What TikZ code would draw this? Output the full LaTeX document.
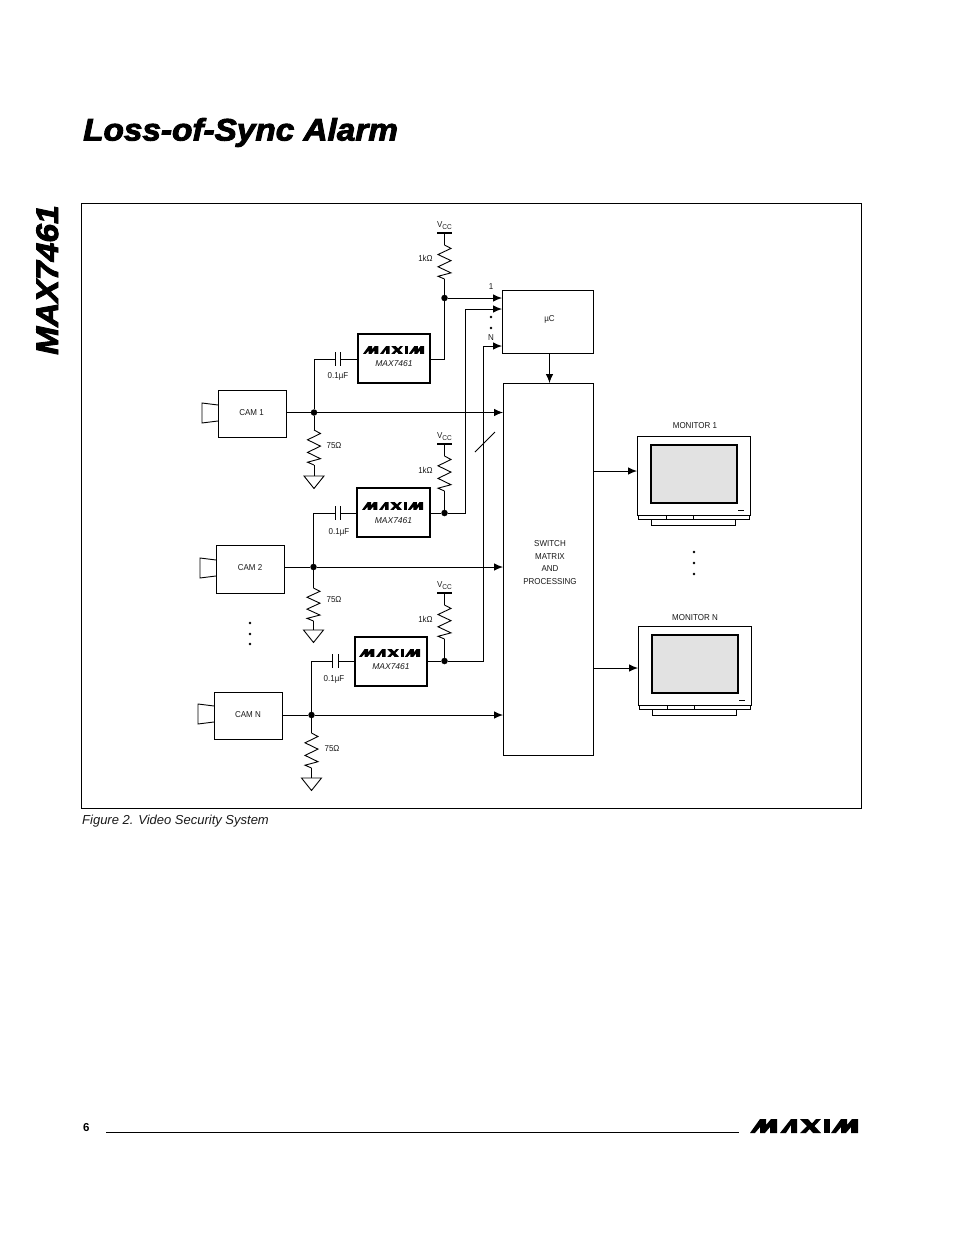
\documentclass[tikz,border=0pt]{standalone}
\usepackage{fontspec}
\setmainfont{Liberation Sans}
\newfontfamily\heavy[FakeStretch=1.075,BoldItalicFeatures={FakeBold=3}]{Liberation Sans}
\newfontfamily\heavyside[FakeStretch=1.085,BoldItalicFeatures={FakeBold=3}]{Liberation Sans}
\newfontfamily\labf[FakeStretch=0.93]{Liberation Sans}
\usetikzlibrary{arrows.meta}
\definecolor{ink}{HTML}{1A1A1A}
\definecolor{screen}{HTML}{E2E2E2}
\tikzset{
  x=1pt,y=-1pt,
  wire/.style={line width=0.9pt,draw=black},
  sig/.style={wire,-{Latex[length=9pt,width=7.5pt]}},
  lbl/.style={font=\labf\fontsize{8.6}{10.2}\selectfont,text=ink,inner sep=0pt,outer sep=0pt,align=center},
  chiplbl/.style={font=\fontsize{8.5}{10}\selectfont\itshape,text=ink,inner sep=0pt,outer sep=0pt},
  thinbox/.style={draw=black,line width=0.9pt,inner sep=0pt,outer sep=0pt,align=center},
  chipbox/.style={draw=black,line width=2.2pt,inner sep=0pt,outer sep=0pt},
  scr/.style={draw=black,line width=2pt,fill=screen,inner sep=0pt,outer sep=0pt},
  dotj/.style={circle,fill=black,inner sep=0pt,outer sep=0pt,minimum size=6.5pt},
  smalld/.style={circle,fill=black,inner sep=0pt,outer sep=0pt,minimum size=2.8pt},
}
\newcommand\resistor[4]{% name x ytop ybot
  \pgfmathsetmacro\rh{#4-#3}
  \coordinate (#1a) at (#2,#3);
  \coordinate (#1b) at (#2,#4);
  \draw[wire,line join=miter] (#1a) -- ++(6.5,0.1*\rh) -- ++(-13,0.18*\rh) -- ++(13,0.18*\rh)
     -- ++(-13,0.18*\rh) -- ++(13,0.18*\rh) -- ++(-13,0.1*\rh) -- (#1b);
}
\newcommand\ground[3]{% name x ytop
  \coordinate (#1) at (#2,#3);
  \draw[wire] (#2-10,#3) -- (#2+10,#3) -- (#2,#3+12.5) -- cycle;
}
\newcommand\vccsym[3]{% name x ybar
  \coordinate (#1) at (#2,#3);
  \draw[wire,line width=1.2pt] (#2-7.5,#3) -- (#2+7.5,#3);
  \node[lbl] (#1t) at (#2,#3-7.5) {V\raisebox{-1.5pt}{\fontsize{7}{7}\selectfont CC}};
}
\newcommand\capsym[4]{% name x1 x2 y
  \coordinate (#1l) at (#2,#4);
  \coordinate (#1r) at (#3,#4);
  \draw[wire] (#2,#4-7) -- (#2,#4+7);
  \draw[wire] (#3,#4-7) -- (#3,#4+7);
}
\newcommand\maximlogo[3]{% x y scale
  \begin{scope}[shift={(#1,#2)},scale=#3]
    \fill[black] (0,14) -- (10,0) -- (16,0) -- (16,6) -- (21,0) -- (27,0) -- (27,14) -- (20,14) -- (20,8) -- (15,14) -- (10,14) -- (10,8) -- (5,14) -- cycle;
    \fill[black] (30,14) -- (41,0) -- (47,0) -- (47,14) -- (41,14) -- (41,6) -- (36,14) -- cycle;
    \fill[black] (50,0) -- (58,0) -- (62,4.5) -- (66,0) -- (71,0) -- (64.5,7) -- (71,14) -- (63,14) -- (59.5,10) -- (56,14) -- (50,14) -- (57,7) -- cycle;
    \fill[black] (74,0) -- (80,0) -- (80,14) -- (74,14) -- cycle;
    \fill[black] (81,14) -- (91,0) -- (97,0) -- (97,6) -- (102,0) -- (108,0) -- (108,14) -- (101,14) -- (101,8) -- (96,14) -- (91,14) -- (91,8) -- (86,14) -- cycle;
  \end{scope}
}
\newcommand\lens[2]{% x y
  \draw[wire] (#1,#2+2) -- (#1-16,#2) -- (#1-16,#2+20) -- (#1,#2+18);
}
\newcommand\monitor[3]{% name left top
  \node[draw=black,line width=0.9pt,inner sep=0pt,outer sep=0pt,minimum width=113pt,minimum height=79pt,anchor=north west] (#1) at (#2,#3) {};
  \node[scr,minimum width=86pt,minimum height=58pt,anchor=north west] (#1s) at (#2+13.5,#3+9) {};
  \fill[black] (#2+101,#3+73.5) rectangle (#2+106.5,#3+75);
  \draw[line width=0.7pt] (#2+1,#3+79) -- (#2+1,#3+83.5) -- (#2+112,#3+83.5) -- (#2+112,#3+79);
  \draw[line width=0.7pt] (#2+29,#3+79) -- (#2+29,#3+83.5);
  \draw[line width=0.7pt] (#2+56,#3+79) -- (#2+56,#3+83.5);
  \draw[line width=0.7pt] (#2+14.5,#3+83.5) -- (#2+14.5,#3+89.5) -- (#2+98,#3+89.5) -- (#2+98,#3+83.5);
}
\begin{document}
\begin{tikzpicture}
\useasboundingbox (0,0) rectangle (954,1235);
\fill[white] (0,0) rectangle (954,1235);

% page furniture
\node[anchor=base west,inner sep=0pt] (title) at (83,140.5) {\heavy\fontsize{31}{31}\selectfont\bfseries\itshape Loss-of-Sync Alarm};
\node[anchor=base west,inner sep=0pt,rotate=90] (side) at (58,355) {\heavyside\fontsize{31}{31}\selectfont\bfseries\itshape MAX7461};
\node[draw=black,line width=0.9pt,inner sep=0pt,outer sep=0pt,minimum width=780pt,minimum height=605pt,anchor=north west] (frame) at (81,203) {};
\node[anchor=base west,inner sep=0pt,font=\fontsize{13}{13}\selectfont\itshape,text=ink] (cap) at (82,824) {Figure 2. Video Security System};
\node[anchor=base west,inner sep=0pt,font=\fontsize{11.5}{12}\selectfont\bfseries] (pg) at (83,1131) {6};
\coordinate (ruleA) at (106,1132);
\coordinate (ruleB) at (739,1132);
\draw[line width=0.7pt] (ruleA) -- (ruleB);
\maximlogo{750}{1119}{1.0}

% main blocks
\node[thinbox,minimum width=91pt,minimum height=63pt,anchor=north west] (uc) at (502,290) {};
\node[lbl] (uct) at (549.5,319) {µC};
\node[thinbox,minimum width=90pt,minimum height=372pt,anchor=north west] (sw) at (503,383) {};
\node[lbl,font=\labf\fontsize{8.6}{12.6}\selectfont] (swt) at (550,562.5) {SWITCH\\MATRIX\\AND\\PROCESSING};

% cameras
\node[thinbox,minimum width=68pt,minimum height=47pt,anchor=north west] (cam1) at (218,390) {};
\node[lbl] (cam1t) at (251.5,412.5) {CAM 1};
\lens{218}{403}
\node[thinbox,minimum width=68pt,minimum height=48pt,anchor=north west] (cam2) at (216,545) {};
\node[lbl] (cam2t) at (250,567.5) {CAM 2};
\lens{216}{558}
\node[thinbox,minimum width=68pt,minimum height=47pt,anchor=north west] (camn) at (214,692) {};
\node[lbl] (camnt) at (248,714.5) {CAM N};
\lens{214}{704}

% chips
\node[chipbox,minimum width=72pt,minimum height=49pt,anchor=north west] (chip1) at (358,334) {};
\maximlogo{363}{346}{0.565}
\node[chiplbl] (chip1t) at (394,364) {MAX7461};
\node[chipbox,minimum width=73pt,minimum height=49pt,anchor=north west] (chip2) at (357,488) {};
\maximlogo{362}{502}{0.565}
\node[chiplbl] (chip2t) at (393.5,521) {MAX7461};
\node[chipbox,minimum width=72pt,minimum height=49pt,anchor=north west] (chip3) at (355,637) {};
\maximlogo{359}{649}{0.565}
\node[chiplbl] (chip3t) at (391,667) {MAX7461};

% junctions
\node[dotj] (j1) at (314,412.5) {};
\node[dotj] (j2) at (313.5,567) {};
\node[dotj] (j3) at (311.5,715) {};
\node[dotj] (o1) at (444.5,298) {};
\node[dotj] (o2) at (444.5,513) {};
\node[dotj] (o3) at (444.5,661) {};

% camera to switch
\draw[wire] (cam1.east |- j1) -- (j1);
\draw[wire] (cam2.east |- j2) -- (j2);
\draw[wire] (camn.east |- j3) -- (j3);
\draw[sig] (j1) -- (j1 -| sw.west);
\draw[sig] (j2) -- (j2 -| sw.west);
\draw[sig] (j3) -- (j3 -| sw.west);

% coupling capacitors
\capsym{c1}{335}{340}{359}
\capsym{c2}{335}{340}{513}
\capsym{c3}{332}{338}{661}
\draw[wire] (j1) -- (j1 |- c1l) -- (c1l);
\draw[wire] (c1r) -- (c1r -| chip1.west);
\draw[wire] (j2) -- (j2 |- c2l) -- (c2l);
\draw[wire] (c2r) -- (c2r -| chip2.west);
\draw[wire] (j3) -- (j3 |- c3l) -- (c3l);
\draw[wire] (c3r) -- (c3r -| chip3.west);
\node[lbl] (c1t) at (338,376.5) {0.1µF};
\node[lbl] (c2t) at (339,532.5) {0.1µF};
\node[lbl] (c3t) at (334,679.5) {0.1µF};

% termination
\resistor{t1}{314}{430}{465}
\resistor{t2}{313.5}{588}{621}
\resistor{t3}{311.5}{733}{768}
\ground{g1}{314}{476}
\ground{g2}{313.5}{630}
\ground{g3}{311.5}{778}
\draw[wire] (j1) -- (t1a); \draw[wire] (t1b) -- (g1);
\draw[wire] (j2) -- (t2a); \draw[wire] (t2b) -- (g2);
\draw[wire] (j3) -- (t3a); \draw[wire] (t3b) -- (g3);
\node[lbl] (t1t) at (334,445.5) {75Ω};
\node[lbl] (t2t) at (334,599.5) {75Ω};
\node[lbl] (t3t) at (332,748.5) {75Ω};

% pull-ups
\vccsym{v1}{444.5}{233}
\vccsym{v2}{444.5}{444}
\vccsym{v3}{444.5}{593}
\resistor{p1}{444.5}{245}{279}
\resistor{p2}{444.5}{456}{491}
\resistor{p3}{444.5}{605}{639}
\draw[wire] (v1) -- (p1a); \draw[wire] (p1b) -- (o1);
\draw[wire] (v2) -- (p2a); \draw[wire] (p2b) -- (o2);
\draw[wire] (v3) -- (p3a); \draw[wire] (p3b) -- (o3);
\node[lbl] (p1t) at (425.5,258.5) {1kΩ};
\node[lbl] (p2t) at (425.5,470.5) {1kΩ};
\node[lbl] (p3t) at (425.5,619.5) {1kΩ};

% chip outputs to µC
\coordinate (c1o) at (chip1.east |- 0,359);
\draw[wire] (c1o) -- (c1o -| o1) -- (o1);
\draw[wire] (chip2.east |- o2) -- (o2);
\draw[wire] (chip3.east |- o3) -- (o3);
\coordinate (bus2) at (465,309);
\coordinate (bus3) at (483.5,346);
\draw[sig] (o1) -- (o1 -| uc.west);
\draw[sig] (o2) -- (o2 -| bus2) -- (bus2) -- (bus2 -| uc.west);
\draw[sig] (o3) -- (o3 -| bus3) -- (bus3) -- (bus3 -| uc.west);
\coordinate (sl1) at (475,452);
\coordinate (sl2) at (495,432);
\draw[wire] (sl1) -- (sl2);
\node[lbl] (one) at (491,286.5) {1};
\node[lbl] (enn) at (491,337.5) {N};
\node[smalld] (d1) at (491,317) {};
\node[smalld] (d2) at (491,328) {};

% µC to switch
\draw[sig] (uc.south -| 549.5,0) -- (sw.north -| 549.5,0);

% monitors
\monitor{mon1}{637}{436}
\monitor{monn}{638}{626}
\node[lbl] (mon1l) at (695,425.5) {MONITOR 1};
\node[lbl] (monnl) at (695,617.5) {MONITOR N};
\draw[sig] (sw.east |- 0,471) -- (mon1.west |- 0,471);
\draw[sig] (sw.east |- 0,668) -- (monn.west |- 0,668);

% ellipses
\node[smalld] (e1) at (250,623) {};
\node[smalld] (e2) at (250,634) {};
\node[smalld] (e3) at (250,644) {};
\node[smalld] (m1) at (694,552) {};
\node[smalld] (m2) at (694,563) {};
\node[smalld] (m3) at (694,574) {};
\end{tikzpicture}
\end{document}
